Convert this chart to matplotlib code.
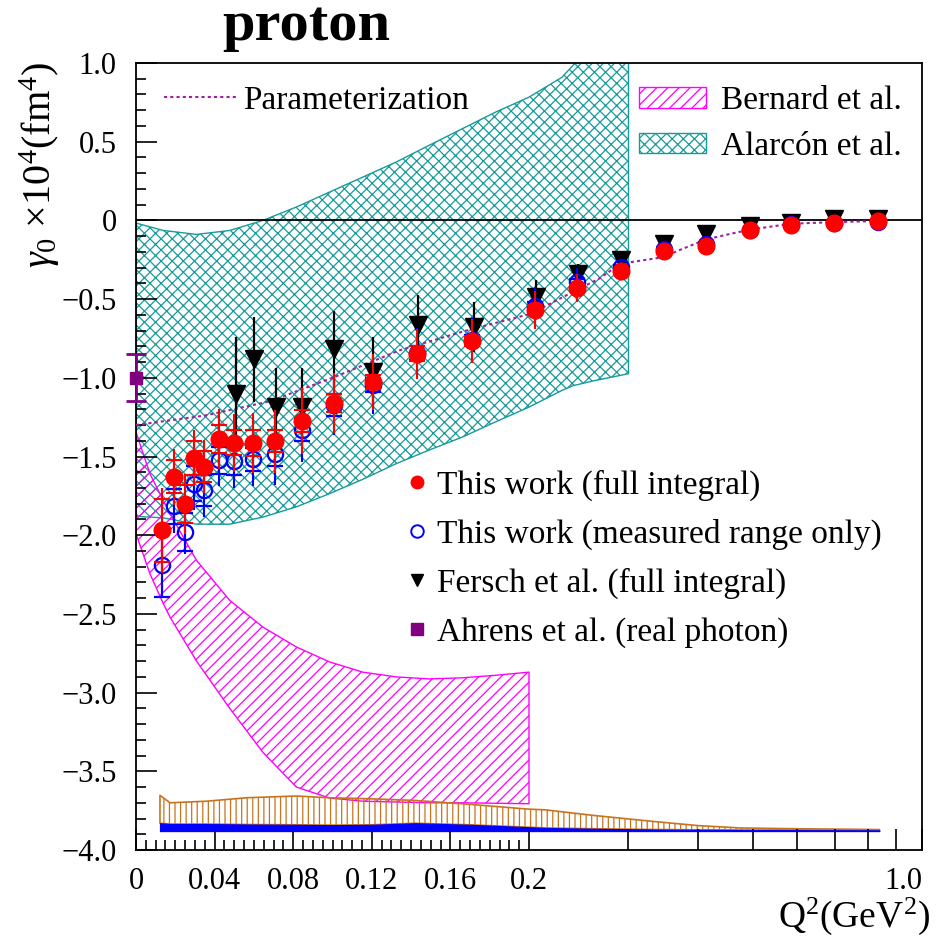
import numpy as np
import matplotlib
matplotlib.use("Agg")
import matplotlib.pyplot as plt
from matplotlib.lines import Line2D
from matplotlib.patches import Patch

plt.rcParams["font.family"] = ["Liberation Serif", "DejaVu Serif"]
plt.rcParams["mathtext.fontset"] = "custom"
plt.rcParams["mathtext.rm"] = "Liberation Serif"
plt.rcParams["mathtext.it"] = "Liberation Serif:italic"
plt.rcParams["hatch.linewidth"] = 0.9

# --- datos ---
q2 = [0.0134, 0.0194, 0.0249, 0.0294, 0.0348, 0.0421, 0.0497, 0.0597, 0.0706,
      0.0845, 0.1007, 0.1204, 0.143, 0.1708, 0.2052, 0.243, 0.291, 0.348,
      0.413, 0.494, 0.585, 0.697, 0.836]

# This work (full integral)
full_y = [-1.97, -1.63, -1.80, -1.51, -1.565, -1.387, -1.413, -1.414, -1.404,
          -1.277, -1.16, -1.027, -0.847, -0.767, -0.567, -0.43, -0.322, -0.197,
          -0.163, -0.064, -0.027, -0.017, -0.006]
full_stat = [0.20, 0.105, 0.12, 0.11, 0.10, 0.09, 0.08, 0.08, 0.07, 0.07, 0.055,
             0.047, 0.047, 0.03, 0.03, 0.02, 0.015, 0.01, 0.01, 0.005, 0.005,
             0.004, 0.003]
full_tot = [0.27, 0.175, 0.19, 0.18, 0.17, 0.19, 0.185, 0.19, 0.20, 0.21, 0.19,
            0.18, 0.16, 0.14, 0.12, 0.09, 0.05, 0.03, 0.03, 0.02, 0.015, 0.01,
            0.01]

# This work (measured range only)
meas_y = [-2.19, -1.817, -1.98, -1.673, -1.715, -1.525, -1.53, -1.518, -1.483,
          -1.33, -1.175, -1.048, -0.843, -0.758, -0.546, -0.39, -0.297, -0.18,
          -0.147, -0.06, -0.025, -0.017, -0.007]
meas_stat = [0.20, 0.11, 0.12, 0.11, 0.10, 0.085, 0.09, 0.075, 0.075, 0.07, 0.07,
             0.045, 0.045, 0.03, 0.03, 0.02, 0.015, 0.01, 0.01, 0.005, 0.005,
             0.004, 0.003]
meas_tot = [0.21, 0.17, 0.14, 0.17, 0.17, 0.165, 0.17, 0.17, 0.20, 0.205, 0.19,
            0.18, 0.16, 0.14, 0.12, 0.09, 0.05, 0.03, 0.03, 0.02, 0.015, 0.01,
            0.01]

# Fersch et al.
fersch_q2 = [0.0508, 0.0599, 0.0711, 0.0844, 0.1007, 0.1205, 0.1437, 0.1718,
             0.2055, 0.2445, 0.2914, 0.348, 0.413, 0.494, 0.585, 0.698, 0.836]
fersch_y = [-1.10, -0.883, -1.186, -1.186, -0.815, -0.963, -0.667, -0.678,
            -0.487, -0.339, -0.254, -0.148, -0.085, -0.038, -0.015, 0.01, 0.01]
fersch_err = [0.36, 0.27, 0.25, 0.25, 0.24, 0.22, 0.19, 0.16, 0.11, 0.06, 0.03,
              0.02, 0.01, 0.01, 0.01, 0.005, 0.005]

# Ahrens et al. (foton real)
ahrens_q2 = [0.0]
ahrens_y = [-1.0]
ahrens_err = [0.15]

# Parameterization
param_q2 = [0, 0.035, 0.068, 0.10, 0.134, 0.168, 0.2017, 0.2238, 0.2662, 0.2913,
            0.3181, 0.3478, 0.3695, 0.413, 0.457, 0.494, 0.585, 0.698, 0.836]
param_y = [-1.30, -1.24, -1.15, -1.00, -0.826, -0.70, -0.593, -0.508, -0.371,
           -0.275, -0.254, -0.233, -0.19, -0.121, -0.085, -0.059, -0.021,
           -0.011, -0.004]

# Alarcon et al. (banda)
alarcon_q2 = [0, 0.0139, 0.0308, 0.0477, 0.0646, 0.0816, 0.0985, 0.1154, 0.1323,
              0.149, 0.166, 0.183, 0.2, 0.229, 0.2395, 0.26, 0.3006]
alarcon_hi = [-0.017, -0.064, -0.089, -0.064, 0.0, 0.085, 0.18, 0.275, 0.37,
              0.476, 0.582, 0.688, 0.783, 0.91, 0.985, 1.1, 1.3]
alarcon_lo = [-1.88, -1.89, -1.93, -1.93, -1.885, -1.82, -1.736, -1.645, -1.546,
              -1.46, -1.377, -1.28, -1.186, -1.08, -1.05, -1.02, -0.974]

# Bernard et al. (banda)
bernard_q2 = [0, 0.0071, 0.0139, 0.0173, 0.0308, 0.0477, 0.0646, 0.0816, 0.0985,
              0.1154, 0.1323, 0.149, 0.166, 0.183, 0.2]
bernard_hi = [-1.345, -1.61, -1.78, -1.863, -2.16, -2.414, -2.584, -2.71, -2.805,
              -2.87, -2.90, -2.913, -2.906, -2.89, -2.87]
bernard_lo = [-1.99, -2.245, -2.435, -2.52, -2.80, -3.10, -3.38, -3.60, -3.67,
              -3.69, -3.695, -3.70, -3.70, -3.703, -3.706]

# Bandas de error sistematico (abajo)
sys_q2 = [0.0122, 0.0173, 0.0359, 0.0562, 0.0816, 0.0985, 0.12, 0.142, 0.17,
          0.1994, 0.214, 0.26, 0.336, 0.40, 0.476, 0.60, 0.84]
sys_full_hi = [-3.653, -3.70, -3.69, -3.668, -3.657, -3.668, -3.675, -3.685,
               -3.71, -3.74, -3.745, -3.78, -3.82, -3.845, -3.86, -3.865, -3.87]
sys_meas_hi = [-3.83, -3.835, -3.835, -3.838, -3.84, -3.842, -3.84, -3.83,
               -3.84, -3.855, -3.86, -3.865, -3.87, -3.872, -3.873, -3.874,
               -3.875]
sys_base = -3.88

xticks = [0, 0.04, 0.08, 0.12, 0.16, 0.2, 0.3, 0.4, 0.5, 0.6, 0.7, 0.8, 0.9, 1.0]
xticklabels = ["0", "0.04", "0.08", "0.12", "0.16", "0.2",
               "", "", "", "", "", "", "", "1.0"]
yticks = [1.0, 0.5, 0, -0.5, -1.0, -1.5, -2.0, -2.5, -3.0, -3.5, -4.0]
yticklabels = ["1.0", "0.5", "0", "\u22120.5", "\u22121.0", "\u22121.5", "\u22122.0",
               "\u22122.5", "\u22123.0", "\u22123.5", "\u22124.0"]


# eje x: lineal hasta 0.2, logaritmico de 0.2 a 1.0
def fwd(x):
    x = np.asarray(x, dtype=float)
    with np.errstate(divide="ignore", invalid="ignore"):
        lg = 1 + np.log10(np.maximum(x, 1e-9) / 0.2) / np.log10(5)
    return np.where(x <= 0.2, x / 0.2, lg)


def inv(u):
    u = np.asarray(u, dtype=float)
    return np.where(u <= 1, u * 0.2, 0.2 * 5 ** (u - 1))


teal = "#179a9a"
magenta = "#ff00ff"
orange = "#c8741e"
purple = "#800080"

fig = plt.figure(figsize=(9.4, 9.4), dpi=100)
ax = fig.add_axes([136 / 940, 90 / 940, 786 / 940, 787 / 940])
ax.set_xscale("function", functions=(fwd, inv))
ax.set_xlim(0, 1.0)
ax.set_ylim(-4.0, 1.0)

# bandas teoricas
ax.fill_between(alarcon_q2, alarcon_lo, alarcon_hi, facecolor="none",
                edgecolor=teal, hatch="xxx", linewidth=1.0, zorder=1)
ax.fill_between(bernard_q2, bernard_lo, bernard_hi, facecolor="none",
                edgecolor=magenta, hatch="///", linewidth=1.0, zorder=1)

# bandas sistematicas
ax.fill_between(sys_q2, sys_meas_hi, sys_full_hi, facecolor="none",
                edgecolor=orange, hatch="|||", linewidth=1.2, zorder=1)
ax.fill_between(sys_q2, sys_base, sys_meas_hi, facecolor="blue",
                edgecolor="blue", linewidth=0.8, zorder=2)

ax.axhline(0, color="black", linewidth=1.3, zorder=2)

ax.plot(param_q2, param_y, color="#a020a0", linestyle=(0, (1.5, 1.5)),
        linewidth=1.5, zorder=3)

# Fersch
ax.errorbar(fersch_q2, fersch_y, yerr=fersch_err, fmt="v", color="black",
            markersize=13, elinewidth=1.6, capsize=0, zorder=4)

# medido
ax.errorbar(q2, meas_y, yerr=meas_tot, fmt="none", ecolor="blue",
            elinewidth=1.5, capsize=0, zorder=5)
ax.errorbar(q2, meas_y, yerr=meas_stat, fmt="o", color="blue", mfc="none",
            mec="blue", mew=1.6, markersize=11, elinewidth=1.5, capsize=6,
            capthick=1.5, zorder=5)

# integral completa
ax.errorbar(q2, full_y, yerr=full_tot, fmt="none", ecolor="red",
            elinewidth=1.5, capsize=0, zorder=6)
ax.errorbar(q2, full_y, yerr=full_stat, fmt="o", color="red", mec="red",
            markersize=12, elinewidth=1.5, capsize=6, capthick=1.5, zorder=6)

# Ahrens
ax.errorbar(ahrens_q2, ahrens_y, yerr=ahrens_err, fmt="s", color=purple,
            markersize=9, elinewidth=2, capsize=7, capthick=2, zorder=7,
            clip_on=False)

# ejes
ax.set_xticks(xticks)
ax.set_xticklabels(xticklabels)
ax.set_xticks([i * 0.005 for i in range(1, 40) if i % 8 != 0], minor=True)
ax.set_yticks(yticks)
ax.set_yticklabels(yticklabels)
ax.set_yticks([round(-4 + 0.1 * i, 1) for i in range(51) if i % 5 != 0],
              minor=True)
ax.tick_params(axis="both", which="both", direction="in", top=False,
               right=False, labelsize=22, width=1.2)
ax.tick_params(axis="both", which="major", length=15)
ax.tick_params(axis="both", which="minor", length=7)
ax.tick_params(axis="x", pad=12)
ax.tick_params(axis="y", pad=14)
ax.get_xticklabels()[-1].set_horizontalalignment("right")
for sp in ax.spines.values():
    sp.set_linewidth(1.3)

fig.text(40 / 940, 1 - 62 / 940, r"$\gamma_0$ $\times$10$^4$(fm$^4$)",
         rotation=90, ha="center", va="top", fontsize=29)
fig.text(930 / 940, 1 - 937 / 940, r"Q$^2$(GeV$^2$)", ha="right",
         va="bottom", fontsize=27)
fig.text(306 / 940, 1 - 26 / 940, "proton", ha="center", va="center",
         fontsize=42, fontweight="bold")

# leyendas
h_param = [Line2D([], [], color="#a020a0", linestyle=(0, (1.5, 1.5)),
                  linewidth=1.5)]
leg1 = ax.legend(h_param, ["Parameterization"], loc="center left",
                 bbox_to_anchor=(0.035, 0.952), frameon=False, fontsize=24,
                 handlelength=2.2, handletextpad=0.2, borderpad=0,
                 borderaxespad=0)
ax.add_artist(leg1)

h_band = [Patch(facecolor="white", edgecolor=magenta, hatch="///"),
          Patch(facecolor="white", edgecolor=teal, hatch="xxx")]
leg2 = ax.legend(h_band, ["Bernard et al.", "Alarc\u00f3n et al."],
                 loc="upper left", bbox_to_anchor=(0.64, 0.971),
                 frameon=False, fontsize=24, handlelength=2.0,
                 handleheight=0.55, handletextpad=0.45, labelspacing=0.46,
                 borderpad=0, borderaxespad=0)
ax.add_artist(leg2)

h_pts = [Line2D([], [], marker="o", color="red", ls="none", markersize=9),
         Line2D([], [], marker="o", mfc="none", mec="blue", mew=1.4,
                ls="none", markersize=9),
         Line2D([], [], marker="v", color="black", ls="none", markersize=9),
         Line2D([], [], marker="s", color=purple, ls="none", markersize=8)]
ax.legend(h_pts, ["This work (full integral)",
                  "This work (measured range only)",
                  "Fersch et al. (full integral)",
                  "Ahrens et al. (real photon)"],
          loc="upper left", bbox_to_anchor=(0.345, 0.4834), frameon=False,
          fontsize=24, handlelength=0.6, handletextpad=0.3, labelspacing=0.54,
          borderpad=0, borderaxespad=0)

fig.savefig("out.png", dpi=100)
